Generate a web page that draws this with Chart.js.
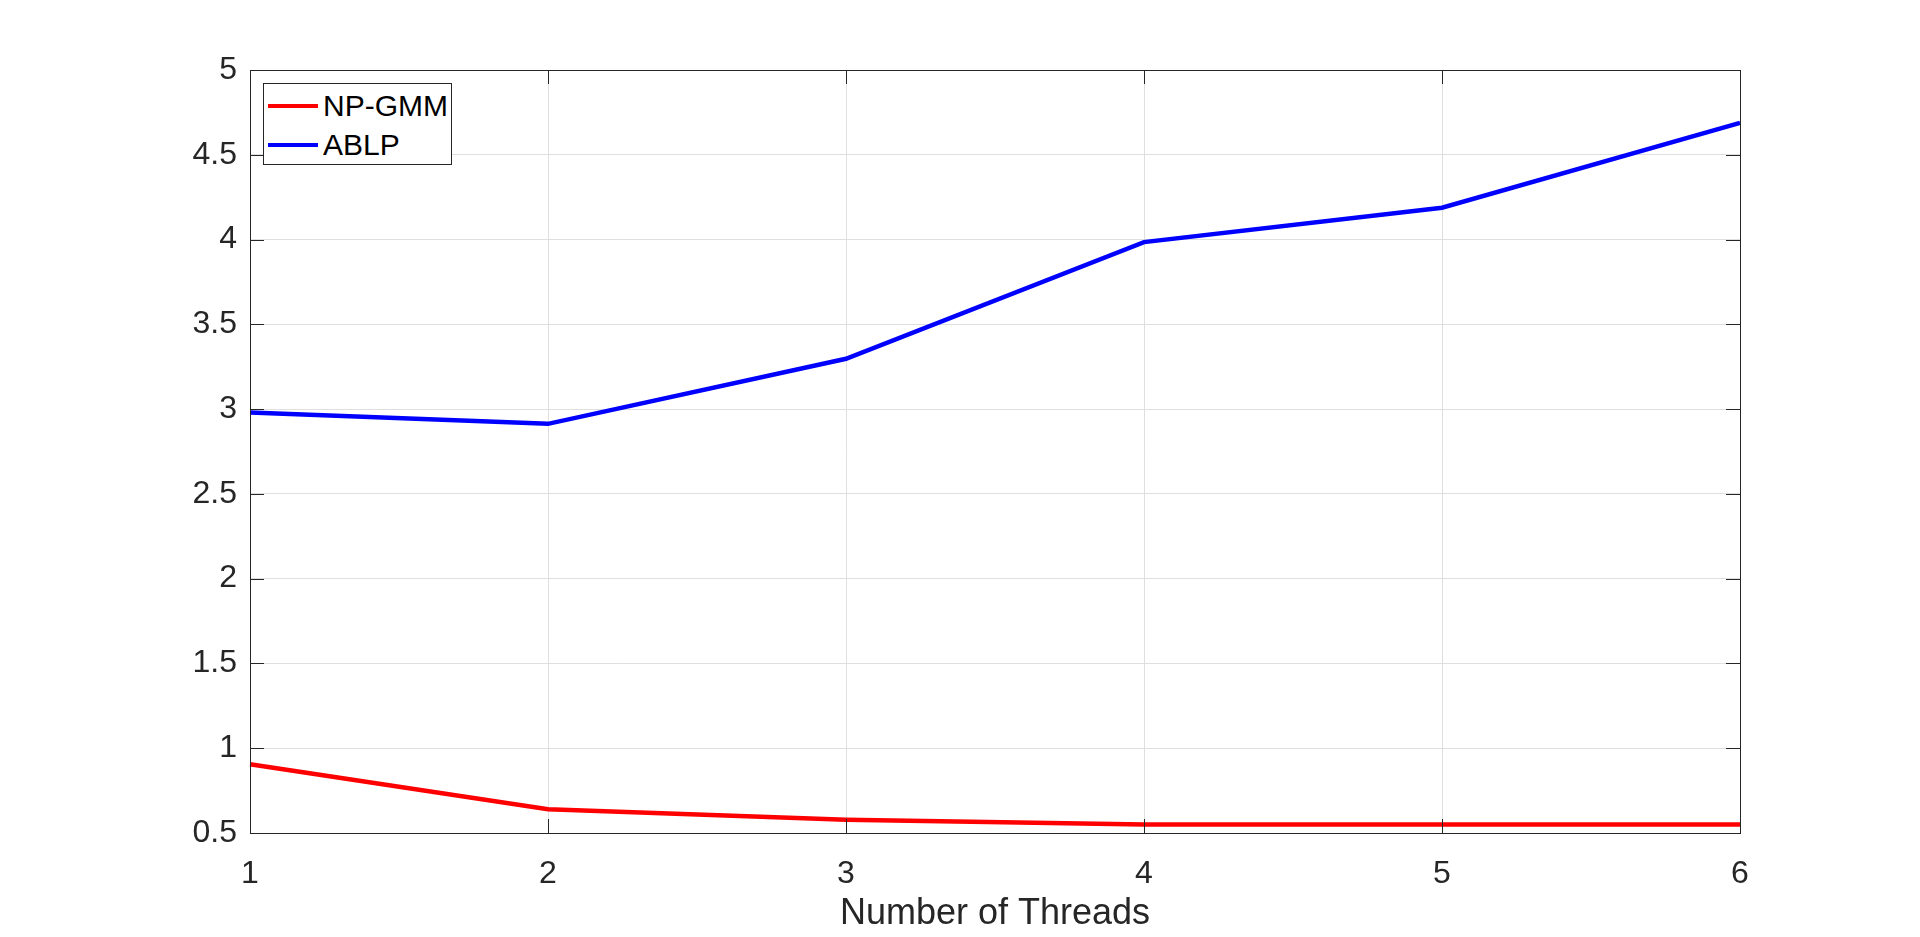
<!DOCTYPE html>
<html>
<head>
<meta charset="utf-8">
<title>Number of Threads</title>
<script src="https://cdn.jsdelivr.net/npm/chart.js@4"></script>
<style>
  body { margin: 0; background: #fff; overflow: hidden; }
  #wrap { position: relative; width: 1920px; height: 937px; }
  #legend {
    position: absolute; background: #fff; border: 1px solid #262626;
    font-family: Arial, "Liberation Sans", sans-serif; font-size: 30px; color: #000;
    padding: 2px 4px 2px 4px; box-sizing: border-box; white-space: nowrap;
  }
  #legend .row { display: flex; align-items: center; height: 39px; }
  #legend .swatch { width: 50px; height: 4px; margin-right: 5px; flex: none; }
</style>
</head>
<body>
<div id="wrap">
  <canvas id="chart" width="1920" height="937"></canvas>
  <div id="legend"></div>
</div>
<script>
// data
const threads = ['1', '2', '3', '4', '5', '6'];
const npGmm = [0.905, 0.64, 0.578, 0.55, 0.55, 0.55];
const ablp = [2.98, 2.913, 3.297, 3.985, 4.188, 4.688];
const yTicks = [0.5, 1, 1.5, 2, 2.5, 3, 3.5, 4, 4.5, 5];
const seriesNames = ['NP-GMM', 'ABLP'];
const seriesColors = ['#ff0000', '#0000ff'];

const axisColor = '#262626';
const gridColor = '#dfdfdf';
const fontFamily = 'Arial, "Liberation Sans", sans-serif';

// box round the plot area with short inward ticks on every side
const boxPlugin = {
    id: 'boxTicks',
    afterDatasetsDraw(chart) {
        const { ctx, chartArea: a, scales } = chart;
        const len = 14;
        ctx.save();
        ctx.strokeStyle = axisColor;
        ctx.lineWidth = 1;
        ctx.beginPath();
        scales.x.ticks.forEach((t, i) => {
            const x = Math.round(scales.x.getPixelForTick(i)) + 0.5;
            ctx.moveTo(x, a.bottom); ctx.lineTo(x, a.bottom - len);
            ctx.moveTo(x, a.top); ctx.lineTo(x, a.top + len);
        });
        yTicks.forEach(v => {
            const y = Math.round(scales.y.getPixelForValue(v)) + 0.5;
            ctx.moveTo(a.left, y); ctx.lineTo(a.left + len, y);
            ctx.moveTo(a.right, y); ctx.lineTo(a.right - len, y);
        });
        ctx.stroke();
        ctx.strokeRect(Math.round(a.left) + 0.5, Math.round(a.top) + 0.5,
            Math.round(a.right - a.left), Math.round(a.bottom - a.top));
        ctx.restore();
    }
};

const chart = new Chart(document.getElementById('chart'), {
    type: 'line',
    data: {
        labels: threads,
        datasets: [
            { label: seriesNames[0], data: npGmm, borderColor: seriesColors[0], borderWidth: 4.5, pointRadius: 0, tension: 0, fill: false },
            { label: seriesNames[1], data: ablp, borderColor: seriesColors[1], borderWidth: 4.5, pointRadius: 0, tension: 0, fill: false }
        ]
    },
    options: {
        responsive: false,
        animation: false,
        layout: { padding: { left: 150, right: 180, top: 70, bottom: 0 } },
        plugins: { legend: { display: false }, tooltip: { enabled: false } },
        scales: {
            x: {
                offset: false,
                grid: { color: gridColor, drawTicks: false },
                border: { display: false },
                ticks: { color: axisColor, padding: 22, maxRotation: 0, font: { family: fontFamily, size: 32 } },
                title: { display: true, text: 'Number of Threads', color: axisColor, padding: { top: 0, bottom: 1 }, font: { family: fontFamily, size: 36 } },
                afterFit: s => { s.height = 104; }
            },
            y: {
                min: 0.5,
                max: 5,
                grid: { color: gridColor, drawTicks: false },
                border: { display: false },
                afterBuildTicks: s => { s.ticks = yTicks.map(v => ({ value: v })); },
                ticks: { color: axisColor, padding: 13, font: { family: fontFamily, size: 32 }, callback: v => String(v) },
                afterFit: s => { s.width = 100; }
            }
        }
    },
    plugins: [boxPlugin]
});

// legend in the top-left corner of the plot, built from the datasets
const legend = document.getElementById('legend');
chart.data.datasets.forEach(ds => {
    const row = document.createElement('div');
    row.className = 'row';
    row.innerHTML = '<span class="swatch" style="background:' + ds.borderColor + '"></span>' + ds.label;
    legend.appendChild(row);
});
legend.style.left = (chart.chartArea.left + 13) + 'px';
legend.style.top = (chart.chartArea.top + 13) + 'px';
legend.style.width = '189px';
legend.style.height = '82px';
</script>
</body>
</html>
